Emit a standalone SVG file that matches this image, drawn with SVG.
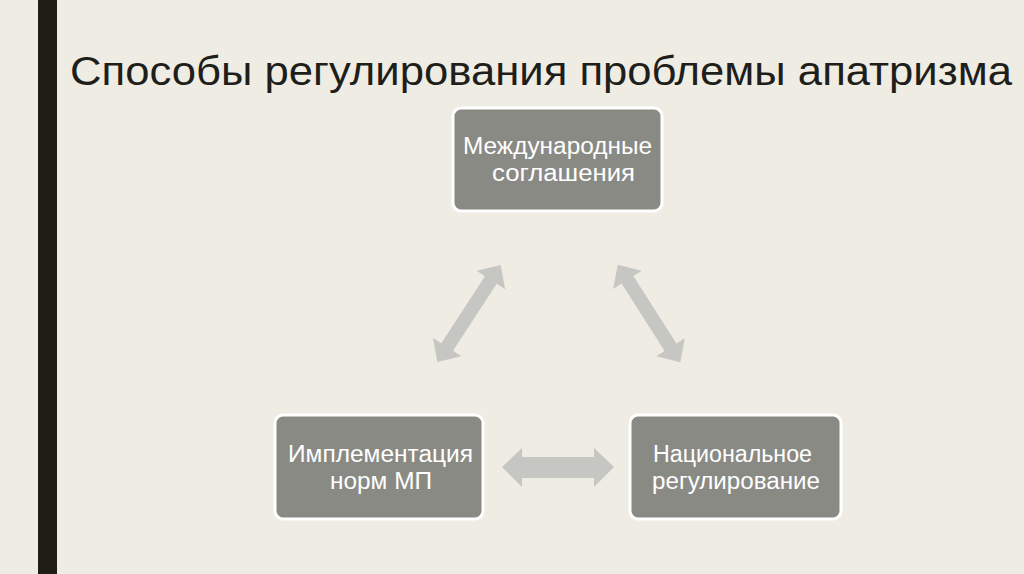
<svg xmlns="http://www.w3.org/2000/svg" width="1024" height="574" viewBox="0 0 1024 574">
<defs>
<style>
.box{fill:#8a8a85;stroke:#ffffff;stroke-width:3}
.lbl{font-family:"Liberation Sans",Arial,sans-serif;font-size:23px;fill:#ffffff;text-anchor:middle}
.arr{fill:#c6c6c3}
.title{font-family:"Liberation Sans",Arial,sans-serif;font-size:41px;fill:#1e1e1a}
</style>
</defs>
<rect x="0" y="0" width="1024" height="574" fill="#efece4"/>
<rect x="38" y="0" width="19" height="574" fill="#1e1e14"/>
<text class="title" x="70" y="85" textLength="942" lengthAdjust="spacingAndGlyphs">Способы регулирования проблемы апатризма</text>
<g id="connectors">
<polygon class="arr" points="502,467 522,448 522,457 594,457 594,448 614,467 594,487 594,478 522,478 522,487"/>
<polygon class="arr" transform="translate(469,313.5) rotate(-56.9)" points="-58,0 -40,-17 -40,-7 40,-7 40,-17 58,0 40,17 40,7 -40,7 -40,17"/>
<polygon class="arr" transform="translate(649,313.5) rotate(57.4)" points="-58,0 -40,-17 -40,-7 40,-7 40,-17 58,0 40,17 40,7 -40,7 -40,17"/>
</g>
<g id="node-intl">
<rect class="box" x="453" y="108" width="209" height="103" rx="8"/>
<text class="lbl" x="557.5" y="154" textLength="189" lengthAdjust="spacingAndGlyphs">Международные</text>
<text class="lbl" x="563.5" y="181" textLength="143" lengthAdjust="spacingAndGlyphs">соглашения</text>
</g>
<g id="node-impl">
<rect class="box" x="275" y="415" width="208" height="104" rx="8"/>
<text class="lbl" x="380.5" y="462" textLength="185" lengthAdjust="spacingAndGlyphs">Имплементация</text>
<text class="lbl" x="381" y="489" textLength="102" lengthAdjust="spacingAndGlyphs">норм МП</text>
</g>
<g id="node-nat">
<rect class="box" x="630" y="415" width="211" height="104" rx="8"/>
<text class="lbl" x="732.5" y="462" textLength="159" lengthAdjust="spacingAndGlyphs">Национальное</text>
<text class="lbl" x="736" y="489" textLength="168" lengthAdjust="spacingAndGlyphs">регулирование</text>
</g>
</svg>
